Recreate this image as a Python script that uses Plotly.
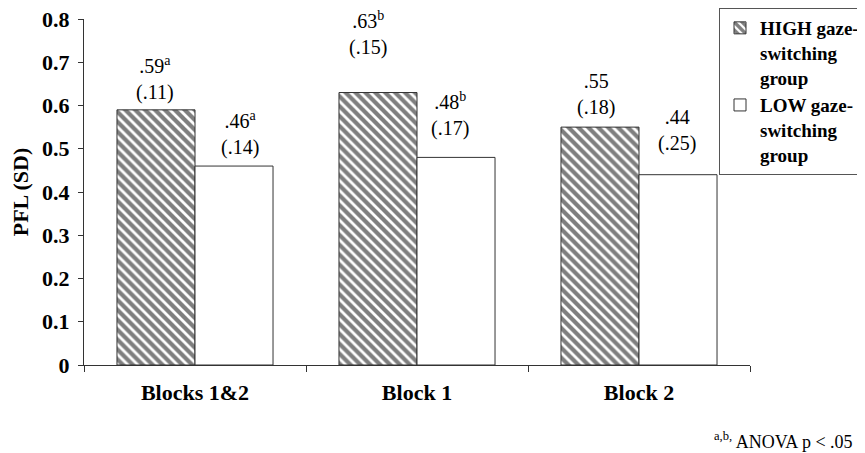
import plotly.graph_objects as go

categories = ["Blocks 1&2", "Block 1", "Block 2"]
high_values = [0.59, 0.63, 0.55]
low_values = [0.46, 0.48, 0.44]
high_labels = [".59<sup>a</sup><br>(.11)", ".63<sup>b</sup><br>(.15)", ".55<br>(.18)"]
low_labels = [".46<sup>a</sup><br>(.14)", ".48<sup>b</sup><br>(.17)", ".44<br>(.25)"]
y_tickvals = [0, 0.1, 0.2, 0.3, 0.4, 0.5, 0.6, 0.7, 0.8]
y_ticktext = ["0", "0.1", "0.2", "0.3", "0.4", "0.5", "0.6", "0.7", "0.8"]

SERIF = "Liberation Serif, Times New Roman, serif"
# label placement offsets (pixels)
high_dx = [-40, -49, -43]
high_dy = [4, 32, 6]
low_dx = [45, 33, 38]
low_dy = [5, 15, 18]

# page body adds an 8px margin, so figure is 8px smaller than the window
W, H = 857, 445

fig = go.Figure()
fig.add_trace(go.Bar(
    x=categories, y=high_values,
    name="HIGH gaze-<br>switching<br>group",
    marker=dict(color="white", line=dict(color="#333", width=1),
                pattern=dict(shape="\\", fgcolor="black", bgcolor="white", size=7, solidity=0.6)),
))
fig.add_trace(go.Bar(
    x=categories, y=low_values,
    name="LOW gaze-<br>switching<br>group",
    marker=dict(color="white", line=dict(color="#333", width=1)),
))

for i, c in enumerate(categories):
    fig.add_annotation(x=c, y=high_values[i], text=high_labels[i], showarrow=False,
                       xshift=high_dx[i], yshift=high_dy[i], yanchor="bottom",
                       font=dict(family=SERIF, size=20, color="black"))
    fig.add_annotation(x=c, y=low_values[i], text=low_labels[i], showarrow=False,
                       xshift=low_dx[i], yshift=low_dy[i], yanchor="bottom",
                       font=dict(family=SERIF, size=20, color="black"))

fig.add_annotation(xref="paper", yref="paper", x=(855 - 84) / 666, y=-0.219,
                   xanchor="right", yanchor="middle",
                   text="<sup>a,b,</sup> ANOVA p < .05", showarrow=False,
                   font=dict(family=SERIF, size=18, color="black"))

fig.update_layout(
    width=W, height=H,
    margin=dict(l=76, r=115, t=11, b=88, autoexpand=False),
    paper_bgcolor="white", plot_bgcolor="white",
    barmode="group", bargap=0.297, bargroupgap=0,
    font=dict(family=SERIF, color="black"),
    legend=dict(xref="container", yref="container", x=711 / W, y=1.0,
                xanchor="left", yanchor="top",
                bgcolor="white", bordercolor="#555", borderwidth=1,
                font=dict(family=SERIF, size=19, color="black", weight="bold"),
                valign="top", itemwidth=30),
    showlegend=True,
)
fig.update_xaxes(showline=True, linecolor="#333", linewidth=1, ticks="outside",
                 tickson="boundaries", ticklen=6, tickcolor="#333", automargin=False,
                 ticklabelstandoff=8,
                 tickfont=dict(family=SERIF, size=22, color="black", weight="bold"),
                 showgrid=False)
fig.update_yaxes(range=[0, 0.8], showline=True, linecolor="#333", linewidth=1,
                 ticks="outside", ticklen=5, tickcolor="#333", automargin=False,
                 tickvals=y_tickvals, ticktext=y_ticktext, ticklabelstandoff=4,
                 ticklabeloverflow="allow",
                 tickfont=dict(family=SERIF, size=22, color="black", weight="bold"),
                 showgrid=False, zeroline=False,
                 title=dict(text="PFL (SD)", font=dict(family=SERIF, size=22, color="black", weight="bold"), standoff=14))

fig.write_html("out.html")
